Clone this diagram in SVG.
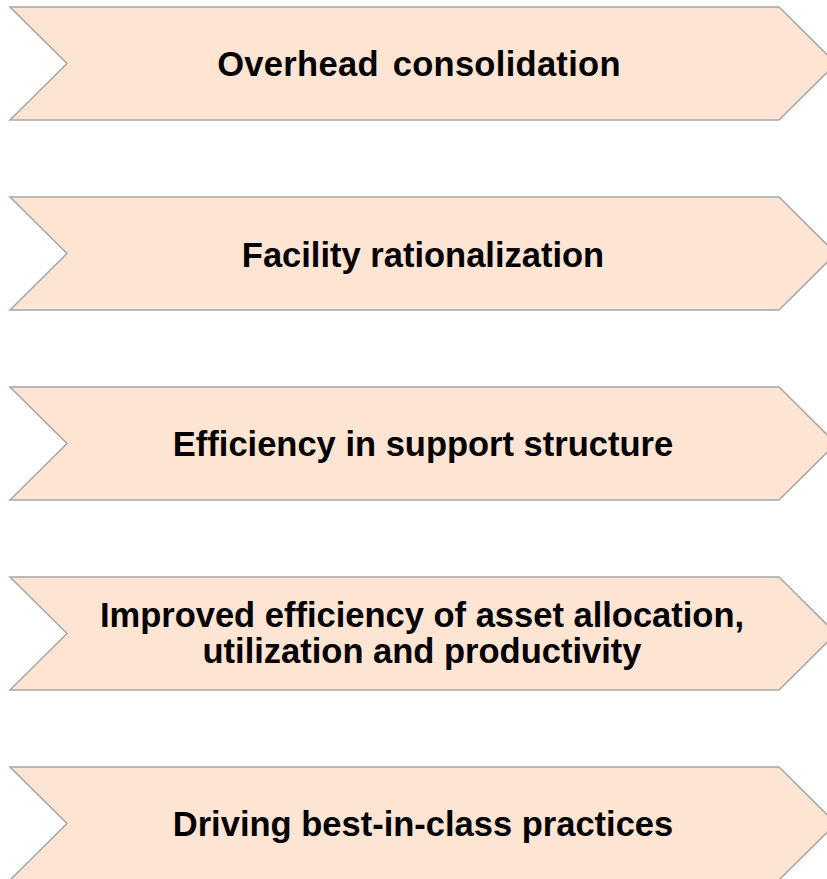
<svg xmlns="http://www.w3.org/2000/svg" width="827" height="879" viewBox="0 0 827 879">
  <style>
    .chev { fill: #fde4d3; stroke: #a6a6a6; stroke-width: 1.5; stroke-linejoin: miter; }
    .label { font-family: "Liberation Sans", Arial, sans-serif; font-weight: bold; font-size: 34.5px; fill: #000; text-anchor: middle; }
  </style>
  <defs>
    <!-- chevron outline, 113 high, notch and point 57 deep -->
    <path id="chevron" d="M10,0 L779,0 L836,56.5 L779,113 L10,113 L67,56.5 Z"/>
  </defs>
  <rect width="827" height="879" fill="#ffffff"/>
  <g id="node-overhead" transform="translate(0,7)">
    <use href="#chevron" class="chev"/>
    <text class="label" x="419" y="69" word-spacing="4" letter-spacing="0.3">Overhead consolidation</text>
  </g>
  <g id="node-facility" transform="translate(0,197)">
    <use href="#chevron" class="chev"/>
    <text class="label" x="423" y="69.5">Facility rationalization</text>
  </g>
  <g id="node-support" transform="translate(0,387)">
    <use href="#chevron" class="chev"/>
    <text class="label" x="423" y="69">Efficiency in support structure</text>
  </g>
  <g id="node-asset" transform="translate(0,577)">
    <use href="#chevron" class="chev"/>
    <text class="label" x="422" y="49.5">Improved efficiency of asset allocation,</text>
    <text class="label" x="422" y="86">utilization and productivity</text>
  </g>
  <g id="node-practices" transform="translate(0,767)">
    <use href="#chevron" class="chev"/>
    <text class="label" x="423" y="69">Driving best-in-class practices</text>
  </g>
  <g id="connectors"/>
</svg>
